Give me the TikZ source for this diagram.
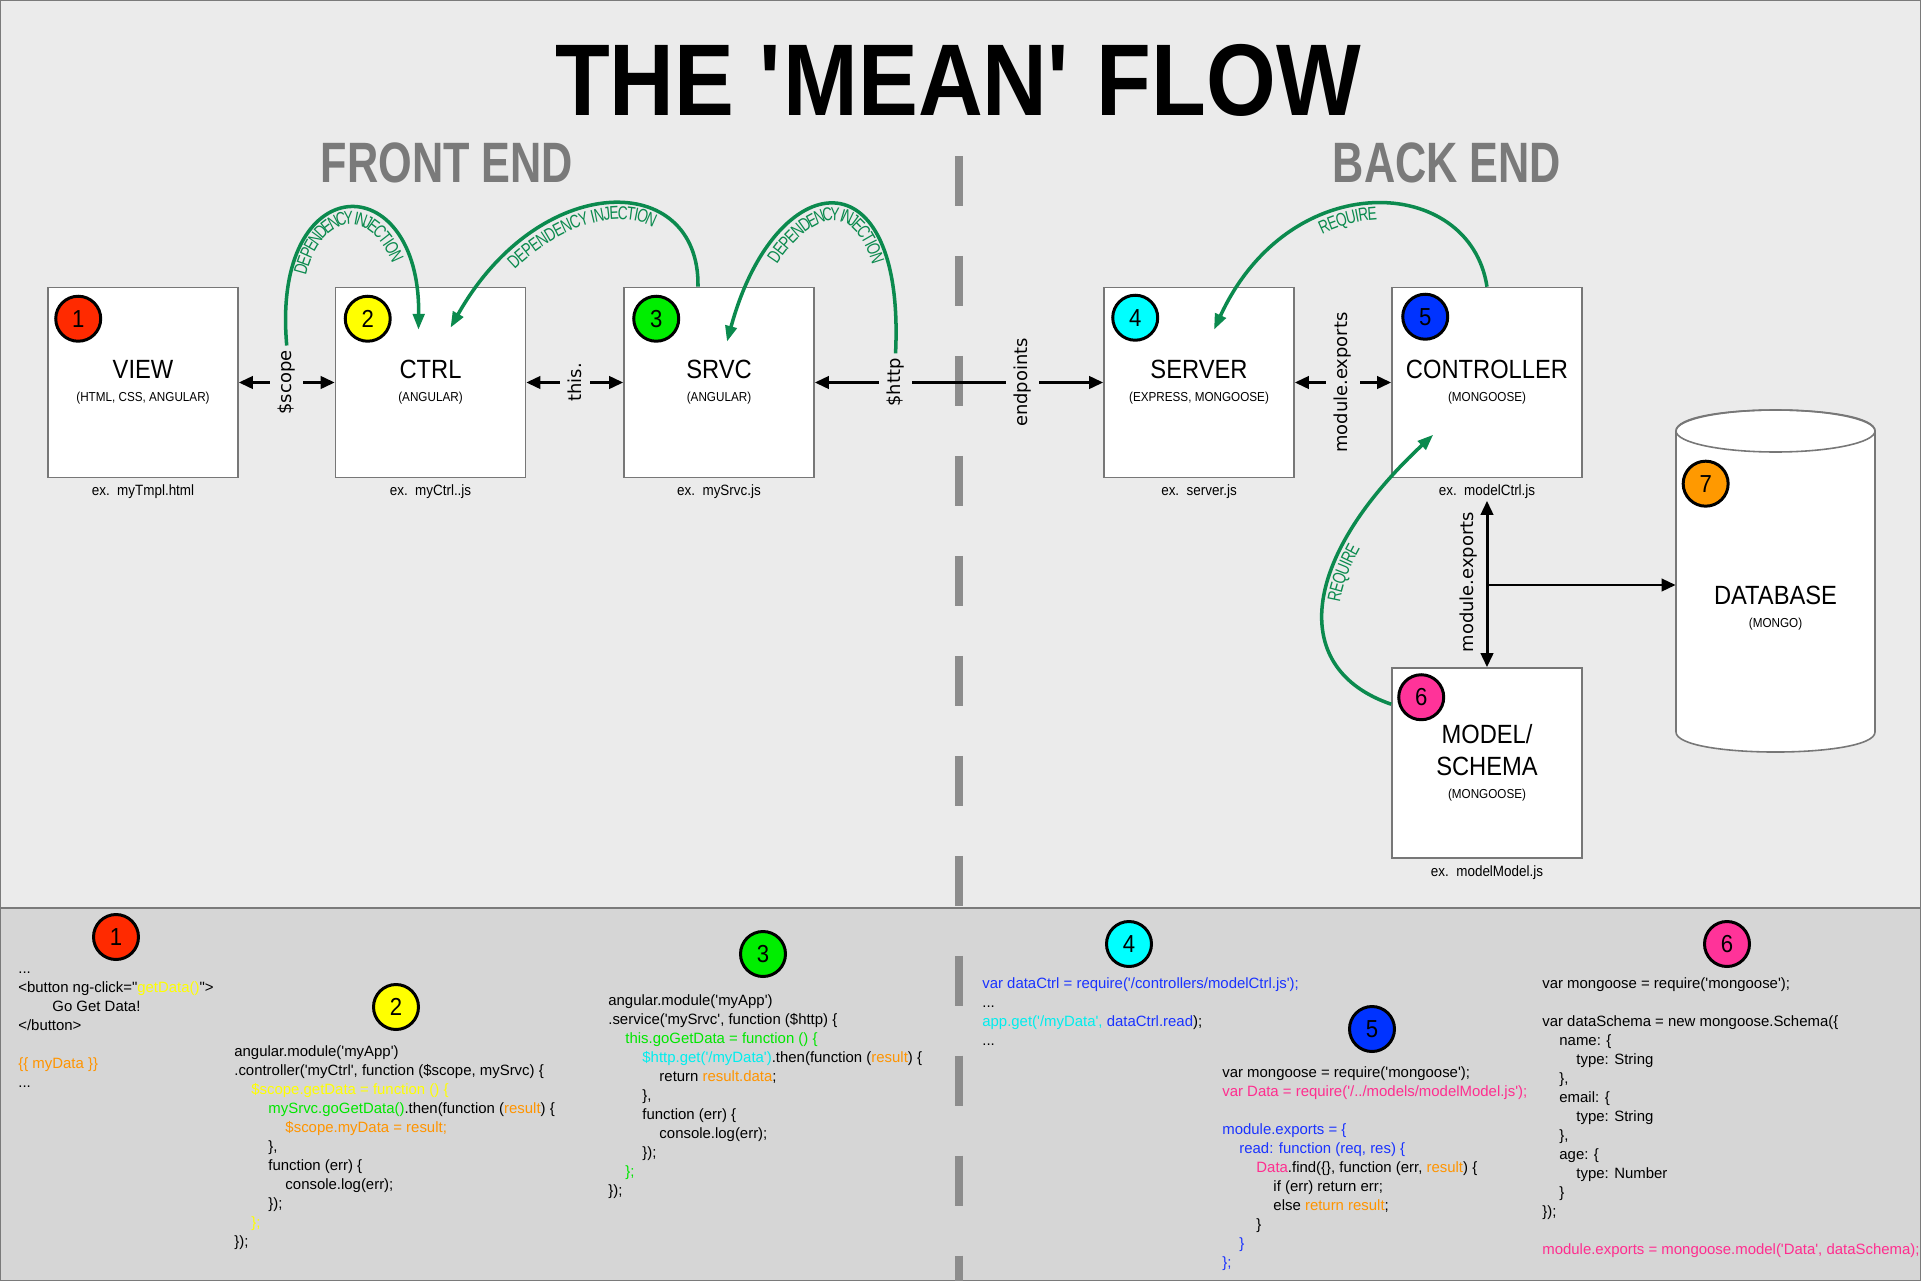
\documentclass[tikz,border=0pt]{standalone}
\usepackage{fontspec}
\setmainfont{Liberation Sans}
\newfontfamily\titlefont[FakeStretch=0.88]{Liberation Sans}
\newfontfamily\headfont[FakeStretch=0.76]{Liberation Sans}
\newfontfamily\boxfont[FakeStretch=0.9]{Liberation Sans}
\newfontfamily\depfont[FakeStretch=0.74]{Liberation Sans}
\newfontfamily\lblfont{DejaVu Sans}
\newfontfamily\codefont{Liberation Sans}
\usetikzlibrary{arrows.meta, positioning, decorations.text}
\usepackage{xcolor}
\definecolor{bgtop}{HTML}{EBEBEB}
\definecolor{bgcode}{HTML}{D6D6D6}
\definecolor{outline}{HTML}{7A7A7A}
\definecolor{divider}{HTML}{8C8C8C}
\definecolor{boxgray}{HTML}{777777}
\definecolor{headgray}{HTML}{7A7A7A}
\definecolor{depgreen}{HTML}{0B8A4E}
\definecolor{badgered}{HTML}{FF2A00}
\definecolor{badgeyellow}{HTML}{FFFF00}
\definecolor{badgegreen}{HTML}{00EE00}
\definecolor{badgecyan}{HTML}{00FFFF}
\definecolor{badgeblue}{HTML}{0033FF}
\definecolor{badgepink}{HTML}{FF3399}
\definecolor{badgeorange}{HTML}{FF9900}
\definecolor{codeyellow}{HTML}{FFFF00}
\definecolor{codeorange}{HTML}{FF9400}
\definecolor{codegreen}{HTML}{00E600}
\definecolor{codecyan}{HTML}{00EEEE}
\definecolor{codeblue}{HTML}{1A33FF}
\definecolor{codepink}{HTML}{FF2E8F}

\newcommand\boxsub{\fontsize{7.4pt}{9pt}\selectfont}
\newcommand\depsize{\depfont\fontsize{10.6pt}{12pt}\selectfont}
\newcommand\sq{\textquotesingle}
\newcommand\ind{\hspace*{9.7pt}}

\begin{document}
\begin{tikzpicture}[
    x=0.02cm, y=-0.02cm,
    >={Triangle[length=8pt,width=7pt]},
    box/.style={
        draw=boxgray,
        line width=0.9pt,
        fill=white,
        minimum width=3.8cm,
        minimum height=3.8cm,
        inner sep=0pt,
        align=center,
        font=\boxfont\fontsize{15pt}{18.2pt}\selectfont,
    },
    badge/.style={
        circle,
        draw=black,
        line width=1.7pt,
        minimum size=0.9cm,
        inner sep=0pt,
        font=\boxfont\fontsize{14pt}{14pt}\selectfont,
    },
    exlbl/.style={
        font=\boxfont\fontsize{8.5pt}{10pt}\selectfont,
        inner sep=1pt,
    },
    conlbl/.style={
        font=\lblfont\fontsize{10.2pt}{12pt}\selectfont,
        fill=bgtop,
        rotate=90,
        inner xsep=2pt,
        inner ysep=4.5pt,
    },
    flow/.style={<->, line width=1.7pt},
    dep/.style={-{Triangle[length=9pt,width=6.5pt]}, depgreen, line width=2pt},
    deptext/.style={
        decorate,
        decoration={text along path, text align=center, raise=-9pt,
            text color=depgreen, text={|\depsize|#1}},
    },
    code/.style={
        anchor=north west,
        align=left,
        inner sep=0pt,
        font=\codefont\fontsize{8.5pt}{10.8pt}\selectfont,
    },
]
\useasboundingbox (0,0) rectangle (1921,1281);

% --- Backgrounds ---
\fill[bgtop] (0,0) rectangle (1921,908);
\fill[bgcode] (0,908) rectangle (1921,1281);
\draw[outline, line width=1.2pt] (0,908) -- (1921,908);
\draw[outline, line width=1.2pt] (0,0) rectangle (1921,1281);

% Front end / back end divider
\draw[divider, line width=4.5pt, dash pattern=on 28.45pt off 28.45pt]
    (959,156) -- (959,1281);

% --- Titles ---
\node[font=\titlefont\bfseries\fontsize{58pt}{60pt}\selectfont] (title) at (958,80)
    {THE \sq MEAN\sq\ FLOW};
\node[font=\headfont\bfseries\fontsize{32.4pt}{34pt}\selectfont, text=headgray] (front) at (447,163)
    {FRONT END};
\node[font=\headfont\bfseries\fontsize{32.4pt}{34pt}\selectfont, text=headgray] (back) at (1447,163)
    {BACK END};

% --- Boxes, placed by coordinates ---
\node[box] (view) at (143,382.5) {VIEW\\[-5pt]{\boxsub (HTML, CSS, ANGULAR)}};
\node[box] (ctrl) at (430.5,382.5) {CTRL\\[-5pt]{\boxsub (ANGULAR)}};
\node[box] (srvc) at (719,382.5) {SRVC\\[-5pt]{\boxsub (ANGULAR)}};
\node[box] (server) at (1199,382.5) {SERVER\\[-5pt]{\boxsub (EXPRESS, MONGOOSE)}};
\node[box] (ctrl5) at (1487,382.5) {CONTROLLER\\[-5pt]{\boxsub (MONGOOSE)}};
\node[box] (model) at (1487,763) {MODEL/\\SCHEMA\\[-5pt]{\boxsub (MONGOOSE)}};

% file names under the boxes
\node[exlbl, below=2.5pt of view] (viewex) {ex.\ \ myTmpl.html};
\node[exlbl, below=2.5pt of ctrl] (ctrlex) {ex.\ \ myCtrl..js};
\node[exlbl, below=2.5pt of srvc] (srvcex) {ex.\ \ mySrvc.js};
\node[exlbl, below=2.5pt of server] (serverex) {ex.\ \ server.js};
\node[exlbl, below=2.5pt of ctrl5] (ctrl5ex) {ex.\ \ modelCtrl.js};
\node[exlbl, below=2.5pt of model] (modelex) {ex.\ \ modelModel.js};

% --- Database cylinder ---
\node[minimum width=3.98cm, minimum height=6cm, inner sep=0pt] (db) at (1775.5,585) {};
\draw[draw=boxgray, line width=0.9pt, fill=white]
    (1676,431) -- (1676,732) .. controls (1676,758.7) and (1875,758.7) .. (1875,732)
    -- (1875,431) .. controls (1875,403) and (1676,403) .. cycle;
\draw[draw=boxgray, line width=0.9pt] (1775.5,431) ellipse [x radius=99.5, y radius=21];
\node[align=center, font=\boxfont\fontsize{15pt}{18.2pt}\selectfont] (dbtext) at (1775.5,608)
    {DATABASE\\[-5pt]{\boxsub (MONGO)}};

% --- Number badges ---
\node[badge, fill=badgered] (b1) at ([shift={(31,32)}]view.north west) {1};
\node[badge, fill=badgeyellow] (b2) at ([shift={(33,32)}]ctrl.north west) {2};
\node[badge, fill=badgegreen] (b3) at ([shift={(33,32)}]srvc.north west) {3};
\node[badge, fill=badgecyan] (b4) at ([shift={(32,31)}]server.north west) {4};
\node[badge, fill=badgeblue] (b5) at ([shift={(34,30)}]ctrl5.north west) {5};
\node[badge, fill=badgepink] (b6) at ([shift={(30,30)}]model.north west) {6};
\node[badge, fill=badgeorange] (b7) at ([shift={(30,49)}]db.north west) {7};

% --- Data flow arrows ---
\draw[flow] (view.east) -- node[conlbl] (scope) {\$scope} (ctrl.west);
\draw[flow] (ctrl.east) -- node[conlbl] (thislbl) {this.} (srvc.west);
\draw[flow] (srvc.east) --
    node[conlbl, pos=0.28] (http) {\$http}
    node[conlbl, pos=0.72] (endp) {endpoints}
    (server.west);
\draw[flow] (server.east) -- node[conlbl] (mexp) {module.exports} (ctrl5.west);

% controller <-> model, branch to the database
\draw[flow] (ctrl5ex.south) --
    node[conlbl, fill=none, above=1pt] (mexpv) {module.exports}
    (model.north);
\coordinate (fork) at (model.north |- db.west);
\draw[->, line width=1.7pt] (fork) -- (db.west);

% --- Dependency injection / require curves ---
\draw[dep, postaction={deptext=DEPENDENCY INJECTION}]
    (scope.east) .. controls +(-16,-179) and +(2,-165) .. ([shift={(-12,43)}]ctrl.north);

\draw[dep]
    ([shift={(-21,0)}]srvc.north) .. controls +(2,-117) and +(89,-158) .. ([shift={(20,41)}]ctrl.north);
\path[deptext=DEPENDENCY INJECTION]
    ([shift={(20,41)}]ctrl.north) .. controls +(89,-158) and +(2,-117) .. ([shift={(-21,0)}]srvc.north);

\draw[dep]
    (http.east) .. controls +(10,-204) and +(48,-177) .. ([shift={(8,55)}]srvc.north);
\path[deptext=DEPENDENCY INJECTION]
    ([shift={(8,55)}]srvc.north) .. controls +(48,-177) and +(10,-204) .. (http.east);

\draw[dep]
    (ctrl5.north) .. controls +(-17,-112) and +(76,-165) .. ([shift={(15,43)}]server.north);
\path[deptext=REQUIRE]
    ([shift={(15,43)}]server.north) .. controls +(76,-165) and +(-17,-112) .. (ctrl5.north);

\draw[dep, postaction={deptext=REQUIRE}]
    ([shift={(0,37)}]model.north west) .. controls +(-102,-35) and +(-134,125) .. ([shift={(42,148)}]ctrl5.north west);

% --- Code panel ---
\node[badge, fill=badgered] (tag1) at (116,937) {1};
\node[code] (code1) at (18,960) {
    ...\strut\\
    <button ng-click=\textquotedbl\textcolor{codeyellow}{getData()}\textquotedbl>\\
    \ind\ind Go Get Data!\\
    </button>\\
    \mbox{}\\
    \textcolor{codeorange}{\{\{ myData \}\}}\\
    ...
};

\node[badge, fill=badgeyellow] (tag2) at (396,1007) {2};
\node[code] (code2) at (234,1043) {
    angular.module(\sq myApp\sq)\strut\\
    .controller(\sq myCtrl\sq, function (\$scope, mySrvc) \{\\
    \ind\textcolor{codeyellow}{\$scope.getData = function () \{}\\
    \ind\ind\textcolor{codegreen}{mySrvc.goGetData()}.then(function (\textcolor{codeorange}{result}) \{\\
    \ind\ind\ind\textcolor{codeorange}{\$scope.myData = result;}\\
    \ind\ind\},\\
    \ind\ind function (err) \{\\
    \ind\ind\ind console.log(err);\\
    \ind\ind\});\\
    \ind\textcolor{codeyellow}{\};}\\
    \});
};

\node[badge, fill=badgegreen] (tag3) at (763,954) {3};
\node[code] (code3) at (608,992) {
    angular.module(\sq myApp\sq)\strut\\
    .service(\sq mySrvc\sq, function (\$http) \{\\
    \ind\textcolor{codegreen}{this.goGetData = function () \{}\\
    \ind\ind\textcolor{codecyan}{\$http.get(\sq/myData\sq)}.then(function (\textcolor{codeorange}{result}) \{\\
    \ind\ind\ind return \textcolor{codeorange}{result.data};\\
    \ind\ind\},\\
    \ind\ind function (err) \{\\
    \ind\ind\ind console.log(err);\\
    \ind\ind\});\\
    \ind\textcolor{codegreen}{\};}\\
    \});
};

\node[badge, fill=badgecyan] (tag4) at (1129,944) {4};
\node[code] (code4) at (982,975) {
    \textcolor{codeblue}{var dataCtrl = require(\sq/controllers/modelCtrl.js\sq);}\strut\\
    ...\\
    \textcolor{codecyan}{app.get(\sq/myData\sq, }\textcolor{codeblue}{dataCtrl.read});\\
    ...
};

\node[badge, fill=badgeblue] (tag5) at (1372,1029) {5};
\node[code] (code5) at (1222,1064) {
    var mongoose = require(\sq mongoose\sq);\strut\\
    \textcolor{codepink}{var Data = require(\sq/../models/modelModel.js\sq);}\\
    \mbox{}\\
    \textcolor{codeblue}{module.exports = \{}\\
    \ind\textcolor{codeblue}{read: function (req, res) \{}\\
    \ind\ind\textcolor{codepink}{Data}.find(\{\}, function (err, \textcolor{codeorange}{result}) \{\\
    \ind\ind\ind if (err) return err;\\
    \ind\ind\ind else \textcolor{codeorange}{return result};\\
    \ind\ind\}\\
    \ind\textcolor{codeblue}{\}}\\
    \textcolor{codeblue}{\};}
};

\node[badge, fill=badgepink] (tag6) at (1727,944) {6};
\node[code] (code6) at (1542,975) {
    var mongoose = require(\sq mongoose\sq);\strut\\
    \mbox{}\\
    var dataSchema = new mongoose.Schema(\{\\
    \ind name: \{\\
    \ind\ind type: String\\
    \ind\},\\
    \ind email: \{\\
    \ind\ind type: String\\
    \ind\},\\
    \ind age: \{\\
    \ind\ind type: Number\\
    \ind\}\\
    \});\\
    \mbox{}\\
    \textcolor{codepink}{module.exports = mongoose.model(\sq Data\sq, dataSchema);}
};

\end{tikzpicture}
\end{document}
